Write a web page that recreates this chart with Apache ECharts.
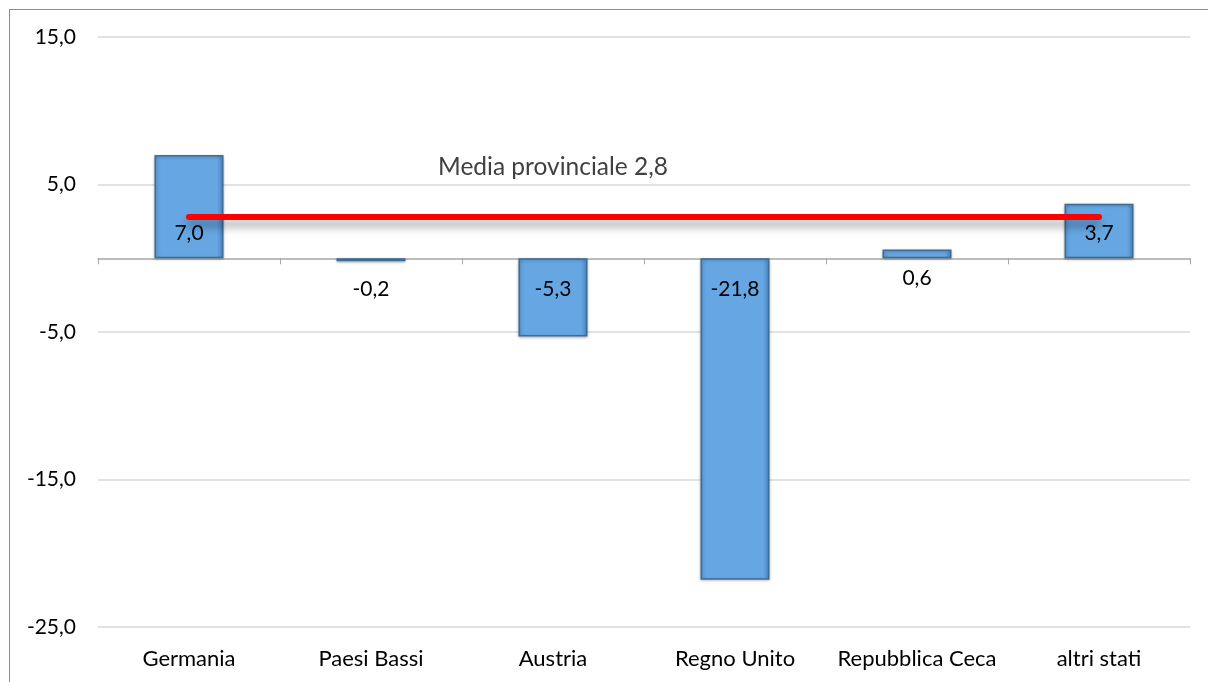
<!DOCTYPE html>
<html>
<head>
    <meta charset="utf-8">
    <title>Media provinciale</title>
    <script src="https://cdn.jsdelivr.net/npm/echarts@6/dist/echarts.min.js"></script>
    <style>
        html, body { margin: 0; padding: 0; background: #fff; }
        #frame {
            position: absolute; left: 9px; top: 9px; width: 1300px; height: 800px;
            border-left: 1px solid #8c8c8c; border-top: 1px solid #8c8c8c;
        }
        #main { position: absolute; left: 0; top: 0; width: 1208px; height: 682px; }
    </style>
</head>
<body>
<div id="frame"></div>
<div id="main"></div>
<script>
    // dati
    var categorie = ['Germania', 'Paesi Bassi', 'Austria', 'Regno Unito', 'Repubblica Ceca', 'altri stati'];
    var valori = [7.0, -0.2, -5.3, -21.8, 0.6, 3.7];
    var mediaProvinciale = 2.8;
    var yTicks = [-25, -15, -5, 5, 15];

    function virgola(v) {
        return v.toFixed(1).replace('.', ',');
    }

    var font = 'Lato, "Open Sans", sans-serif';

    // etichette alla base della barra (come Excel "interno base")
    var barData = valori.map(function (v) {
        var pos, dist;
        if (v >= 1) { pos = 'insideBottom'; dist = 15; }
        else if (v >= 0) { pos = 'bottom'; dist = 9; }
        else { pos = 'insideTop'; dist = 20; }
        return {
            value: v,
            label: { position: pos, distance: dist }
        };
    });

    // linea della media, etichetta sopra il terzo punto
    var lineData = categorie.map(function (c, i) {
        return { value: mediaProvinciale };
    });

    var chart = echarts.init(document.getElementById('main'));
    var option = {
        animation: false,
        grid: { left: 98, right: 18, top: 37, bottom: 55 },
        xAxis: [{
            type: 'category',
            data: categorie,
            axisLine: { onZero: true, lineStyle: { color: '#a6a6a6', width: 1.5 } },
            axisTick: { show: true, inside: false, length: 6, lineStyle: { color: '#a6a6a6' } },
            axisLabel: { show: false }
        }, {
            type: 'category',
            data: categorie,
            position: 'bottom',
            axisLine: { show: false },
            axisTick: { show: false },
            axisLabel: { color: '#000', fontSize: 22, fontFamily: font, margin: 21, interval: 0 }
        }],
        yAxis: {
            type: 'value',
            min: yTicks[0],
            max: yTicks[yTicks.length - 1],
            interval: 10,
            axisLine: { show: false },
            axisTick: { show: false },
            splitLine: { lineStyle: { color: '#d9d9d9', width: 1.5 } },
            axisLabel: {
                color: '#000', fontSize: 21, fontFamily: font, margin: 22,
                formatter: function (v) { return virgola(v); }
            }
        },
        series: [{
            type: 'bar',
            data: barData,
            barWidth: 69,
            itemStyle: {
                color: new echarts.graphic.LinearGradient(0, 0, 1, 0, [
                    { offset: 0, color: '#5a9ad6' },
                    { offset: 0.1, color: '#66a7e3' },
                    { offset: 0.9, color: '#66a7e3' },
                    { offset: 1, color: '#4d88c4' }
                ]),
                borderColor: '#3e6c99',
                borderWidth: 1.5,
                shadowColor: 'rgba(0,0,0,0.25)',
                shadowBlur: 3,
                shadowOffsetY: 1
            },
            label: {
                show: true,
                color: '#000',
                fontSize: 21,
                fontFamily: font,
                formatter: function (p) { return virgola(p.value); }
            },
            z: 2
        }, {
            type: 'line',
            data: lineData,
            symbol: 'circle',
            symbolSize: 1,
            showSymbol: true,
            itemStyle: { color: 'rgba(255,0,0,0)' },
            lineStyle: {
                color: '#ff0000',
                width: 6,
                cap: 'round',
                shadowColor: 'rgba(0,0,0,0.35)',
                shadowBlur: 8,
                shadowOffsetY: 7
            },
            label: {
                show: true,
                position: 'top',
                distance: 37,
                offset: [0, 0],
                color: '#404040',
                fontSize: 24.5,
                fontFamily: font,
                formatter: function (p) {
                    return p.dataIndex === 2 ? 'Media provinciale ' + virgola(p.value) : '';
                }
            },
            z: 3
        }]
    };
    chart.setOption(option);
</script>
</body>
</html>
